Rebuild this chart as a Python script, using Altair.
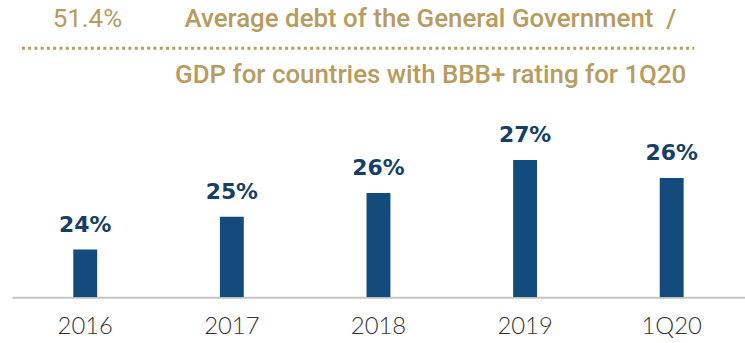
import altair as alt
import pandas as pd

categories = ["2016", "2017", "2018", "2019", "1Q20"]
values = [24.0, 25.1, 25.9, 27.0, 26.4]
labels = ["24%", "25%", "26%", "27%", "26%"]

headline = "51.4%"
title_line1 = "Average debt of the General Government\u00a0\u00a0/"
title_line2 = "GDP for countries with BBB+ rating for 1Q20"

GOLD = "#b89b5e"
BLUE = "#134b7c"
LABEL_BLUE = "#153f69"
TFONT = "Roboto"

df = pd.DataFrame({"cat": categories, "val": values, "label": labels})

x = alt.X("cat:N", sort=categories, title=None,
          scale=alt.Scale(paddingInner=0.837, paddingOuter=0.4185),
          axis=alt.Axis(labelAngle=0, labelFont="Lato", labelFontWeight=300,
                        labelFontSize=24, labelColor="#333333", labelPadding=17,
                        ticks=False, domainColor="#c4c4c4", domainWidth=2,
                        grid=False))
y = alt.Y("val:Q", title=None,
          scale=alt.Scale(domain=[22.4, 29.0], zero=False, nice=False),
          axis=None)

base = alt.Chart(df)
bars = base.mark_bar(color=BLUE, clip=True).encode(x=x, y=y, y2=alt.datum(22.4))
text = base.mark_text(font="DejaVu Sans", fontWeight="bold", fontSize=22,
                      color=LABEL_BLUE, baseline="alphabetic", dy=-18).encode(
    x=x, y=y, text="label:N")

head = alt.Chart(pd.DataFrame({"t": [headline]})).mark_text(
    font=TFONT, fontSize=26, color=GOLD, align="left",
    baseline="alphabetic").encode(text="t:N", x=alt.value(41), y=alt.value(-74))
t1 = alt.Chart(pd.DataFrame({"t": [title_line1]})).mark_text(
    font=TFONT, fontSize=26, fontWeight=500, color=GOLD,
    align="right", baseline="alphabetic").encode(text="t:N", x=alt.value(668), y=alt.value(-74))
t2 = alt.Chart(pd.DataFrame({"t": [title_line2]})).mark_text(
    font=TFONT, fontSize=26, fontWeight=500, color=GOLD,
    align="right", baseline="alphabetic").encode(text="t:N", x=alt.value(678), y=alt.value(-17))
dots = alt.Chart(pd.DataFrame({"a": [0]})).mark_rule(
    color=GOLD, strokeWidth=3, strokeDash=[3, 3.3]).encode(
    x=alt.value(10), x2=alt.value(686), y=alt.value(-52.5))

chart = alt.layer(bars, text, head, t1, t2, dots).properties(
    width=737, height=198,
    autosize=alt.AutoSizeParams(type="none"),
    padding={"left": 12, "top": 100, "right": 0, "bottom": 45},
).configure_view(stroke=None)

chart.save("out.html", embed_options={"renderer": "svg", "actions": False})
